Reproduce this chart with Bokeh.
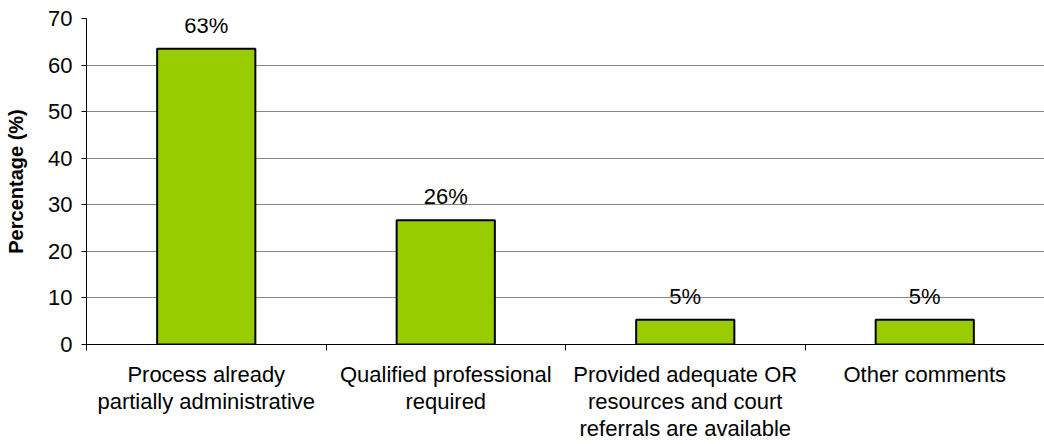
from bokeh.plotting import figure
from bokeh.models import ColumnDataSource, FixedTicker, Range1d, LabelSet
from bokeh.core.properties import value
from bokeh.embed import file_html
from bokeh.resources import INLINE

categories = ["Process already\npartially administrative",
              "Qualified professional\nrequired",
              "Provided adequate OR\nresources and court\nreferrals are available",
              "Other comments"]
values = [63.5, 26.7, 5.3, 5.3]
labels = ["63%", "26%", "5%", "5%"]
y_ticks = [0, 10, 20, 30, 40, 50, 60, 70]

FONT = "Liberation Sans"
xs = [i + 0.5 for i in range(len(categories))]

src = ColumnDataSource(dict(x=xs, top=values, lab=labels))

p = figure(width=1044, height=444, output_backend="svg", toolbar_location=None,
           x_range=Range1d(0, len(categories)), y_range=Range1d(0, 70),
           min_border_left=86, min_border_right=0, min_border_top=18, min_border_bottom=98)
p.outline_line_color = None
p.background_fill_color = "white"

p.vbar(x="x", top="top", width=0.41, bottom=0, source=src,
       fill_color="#99CC00", line_color="black", line_width=2)
p.add_layout(LabelSet(x="x", y="top", text="lab", source=src, text_align="center",
                      text_baseline="bottom", y_offset=11, text_font=value(FONT),
                      text_font_size="22px", text_color="black"))

# x axis
p.xaxis.ticker = FixedTicker(ticks=xs, minor_ticks=list(range(len(categories) + 1)))
p.xaxis.major_label_overrides = {x: c for x, c in zip(xs, categories)}
p.xaxis.major_tick_line_color = None
p.xaxis.minor_tick_line_color = "black"
p.xaxis.minor_tick_out = 6
p.xaxis.minor_tick_in = 0
p.xaxis.axis_line_color = "black"
p.xaxis.major_label_text_font = FONT
p.xaxis.major_label_text_font_size = "22px"
p.xaxis.major_label_text_color = "black"
p.xaxis.major_label_standoff = 11
p.xaxis.major_label_text_line_height = 1.09

# y axis
p.yaxis.ticker = FixedTicker(ticks=y_ticks, minor_ticks=[])
p.yaxis.major_tick_out = 5
p.yaxis.major_tick_in = 0
p.yaxis.axis_line_color = "black"
p.yaxis.major_tick_line_color = "black"
p.yaxis.major_label_text_font = FONT
p.yaxis.major_label_text_font_size = "22px"
p.yaxis.major_label_text_color = "black"
p.yaxis.major_label_standoff = 9
p.yaxis.axis_label = "Percentage (%)"
p.yaxis.axis_label_text_font = FONT
p.yaxis.axis_label_text_font_size = "20px"
p.yaxis.axis_label_text_font_style = "bold"
p.yaxis.axis_label_text_color = "black"
p.yaxis.axis_label_standoff = 18

p.xgrid.grid_line_color = None
p.ygrid.ticker = FixedTicker(ticks=y_ticks)
p.ygrid.grid_line_color = "#868686"
p.ygrid.grid_line_width = 1

open("out.html", "w").write(file_html(p, INLINE))
